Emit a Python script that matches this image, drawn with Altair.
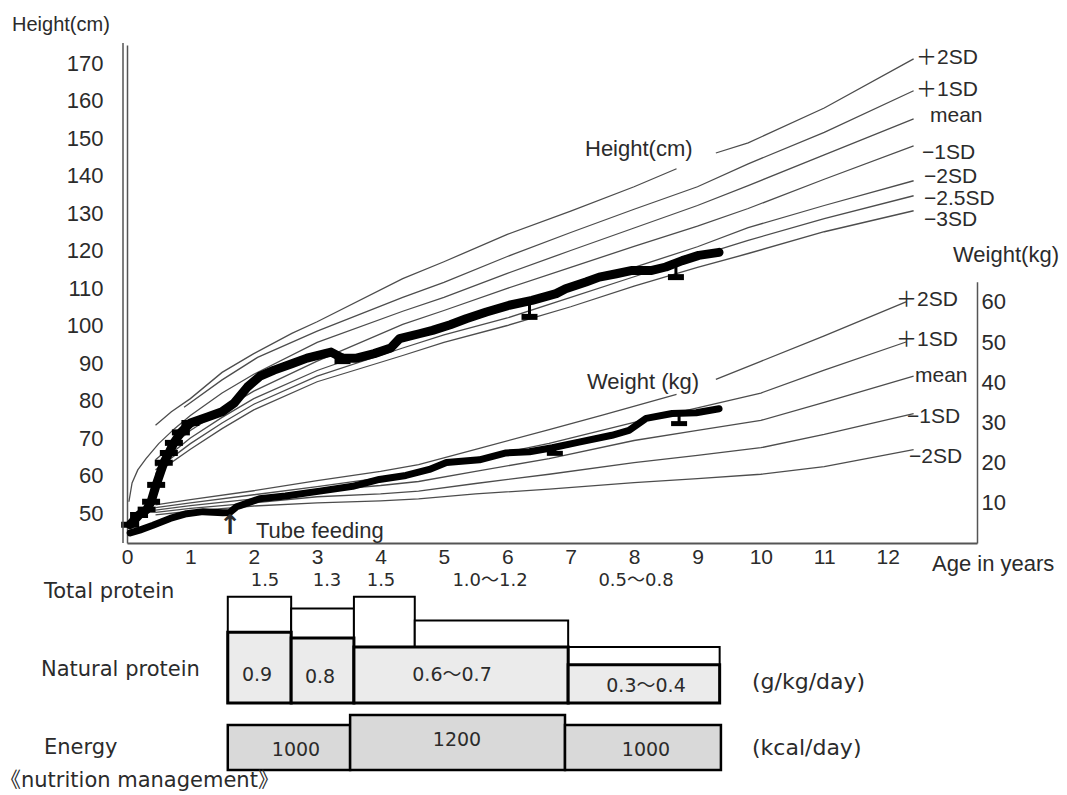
import altair as alt
import pandas as pd

# ---------------- data ----------------
# Height reference curves (cm) by age (years)
HT_P2_AGE_A = [0.45, 0.7, 1.0, 1.5, 2.0, 2.6, 3.0, 4.35, 5.0, 6.0, 7.0, 8.0, 8.67]
HT_P2_CM_A = [73.4, 77.0, 80.5, 87.5, 92.5, 97.9, 101.0, 112.5, 117.0, 124.3, 130.5, 137.0, 141.8]
HT_P2_AGE_B = [9.29, 9.8, 11.0, 12.41]
HT_P2_CM_B = [146.0, 148.7, 158.0, 171.1]
HT_P1_AGE = [0.9, 1.5, 2.06, 3.0, 4.35, 5.0, 6.0, 7.0, 8.0, 9.0, 9.8, 11.0, 12.41]
HT_P1_CM = [78.2, 85.5, 91.5, 98.5, 107.5, 111.5, 118.4, 124.8, 131.0, 137.0, 143.1, 151.5, 162.6]
HT_MEAN_AGE = [0.03, 0.08, 0.17, 0.3, 0.5, 0.75, 1.0, 1.5, 2.0, 3.0, 4.35, 5.0, 6.0, 7.0, 8.0, 9.0, 9.8, 11.0, 12.41]
HT_MEAN_CM = [53.0, 58.0, 61.5, 64.5, 68.5, 72.5, 76.0, 82.0, 87.0, 95.5, 103.8, 107.5, 113.9, 120.0, 126.0, 132.0, 137.3, 145.5, 155.1]
HT_LOW_AGE = [0.45, 1.0, 1.5, 2.0, 3.0, 4.35, 5.0, 6.0, 7.0, 8.0, 9.0, 9.8, 11.0, 12.41]
HT_M1_CM = [64.2, 72.0, 77.5, 82.5, 90.5, 100.3, 104.0, 109.9, 115.5, 121.1, 126.5, 131.2, 139.0, 147.9]
HT_M2_CM = [62.5, 70.0, 75.5, 80.5, 88.0, 96.0, 99.5, 104.5, 110.0, 115.5, 121.0, 126.1, 132.0, 138.6]
HT_M25_CM = [61.5, 68.5, 74.0, 79.0, 86.5, 94.0, 97.5, 102.0, 107.5, 113.0, 118.5, 122.7, 128.5, 134.6]
HT_M3_CM = [60.5, 67.0, 72.5, 77.5, 85.0, 92.0, 95.5, 100.0, 105.0, 110.5, 115.5, 119.2, 125.0, 130.6]

# Weight reference curves (kg)
WT_P2_AGE_A = [0.45, 1.0, 2.0, 3.0, 4.0, 4.6, 5.5, 6.66, 7.5, 8.67]
WT_P2_KG_A = [9.5, 10.8, 13.0, 15.5, 17.8, 19.5, 23.3, 28.2, 31.8, 37.0]
WT_P2_AGE_B = [9.29, 10.0, 11.0, 12.29]
WT_P2_KG_B = [40.7, 45.2, 51.5, 60.0]
WT_P1_AGE = [0.45, 1.0, 2.0, 3.0, 4.0, 4.6, 5.5, 6.66, 8.0, 9.0, 10.0, 11.0, 12.29]
WT_P1_KG = [8.8, 10.0, 12.0, 14.0, 16.2, 17.8, 21.0, 24.8, 30.0, 33.6, 37.3, 43.0, 50.0]
WT_LOW_AGE = [0.45, 1.0, 2.0, 3.0, 4.0, 4.6, 5.5, 6.66, 8.0, 9.0, 10.0, 11.0, 12.41]
WT_MEAN_KG = [8.2, 9.3, 11.0, 13.0, 14.3, 15.3, 17.8, 21.0, 25.5, 28.0, 30.5, 35.0, 41.5]
WT_M1_KG = [7.6, 8.6, 10.0, 11.5, 12.2, 12.9, 14.8, 17.1, 20.0, 21.8, 23.7, 27.0, 32.2]
WT_M2_KG = [7.0, 7.9, 9.2, 10.0, 10.5, 11.0, 12.2, 13.4, 15.0, 16.0, 17.1, 19.0, 23.2]

# Patient record
PT_HT_AGE = [0.05, 0.19, 0.31, 0.38, 0.46, 0.58, 0.66, 0.74, 0.85, 1.0, 1.27, 1.5, 1.69, 1.9,
             2.1, 2.32, 2.6, 2.84, 3.22, 3.4, 3.62, 3.9, 4.16, 4.3, 4.61, 4.82, 5.1, 5.35,
             5.67, 6.03, 6.39, 6.77, 6.92, 7.24, 7.45, 7.72, 7.97, 8.28, 8.5, 8.76, 9.02, 9.34]
PT_HT_CM = [46.9, 49.5, 50.9, 53.0, 57.5, 63.4, 66.0, 68.7, 71.5, 74.0, 75.6, 77.0, 79.3, 83.6,
            86.5, 88.1, 89.8, 91.3, 92.9, 91.3, 91.3, 92.5, 94.0, 96.5, 97.8, 98.7, 100.2, 101.8,
            103.6, 105.4, 106.7, 108.5, 109.8, 111.6, 112.9, 113.8, 114.7, 114.7, 115.6, 117.3, 118.7, 119.5]
HT_DIP_AGE = [3.4, 6.35, 8.66]
HT_DIP_TOP = [92.5, 106.6, 116.0]
HT_DIP_LOW = [90.5, 102.3, 112.9]

PT_WT_AGE = [0.05, 0.2, 0.41, 0.68, 0.94, 1.2, 1.51, 1.62, 1.73, 2.09, 2.5, 3.04, 3.56, 3.98,
             4.4, 4.77, 5.04, 5.56, 5.98, 6.35, 6.71, 7.13, 7.65, 7.92, 8.19, 8.6, 8.98, 9.34]
PT_WT_KG = [2.5, 3.2, 4.4, 6.1, 7.3, 7.8, 7.5, 7.6, 9.0, 11.0, 11.7, 12.9, 14.1, 15.8,
            16.8, 18.3, 20.0, 20.7, 22.4, 22.7, 23.7, 25.1, 26.8, 28.0, 31.0, 32.2, 32.4, 33.4]
WT_DIP_AGE = [6.75, 8.71]
WT_DIP_TOP = [23.9, 32.3]
WT_DIP_LOW = [22.3, 29.7]

# Nutrition management (age ranges)
TOTAL_START = [1.59, 2.59, 3.58, 4.54, 6.96]
TOTAL_END = [2.59, 3.58, 4.54, 6.96, 9.35]
TOTAL_VAL = [1.5, 1.3, 1.5, 1.1, 0.65]
TOTAL_TXT = ["1.5", "1.3", "1.5", "1.0～1.2", "0.5～0.8"]
NATURAL_START = [1.59, 2.59, 3.58, 6.96]
NATURAL_END = [2.59, 3.58, 6.96, 9.35]
NATURAL_VAL = [0.9, 0.8, 0.65, 0.35]
NATURAL_TXT = ["0.9", "0.8", "0.6～0.7", "0.3～0.4"]
ENERGY_START = [1.59, 3.52, 6.91]
ENERGY_END = [3.52, 6.91, 9.37]
ENERGY_VAL = [1000, 1200, 1000]
ENERGY_TXT = ["1000", "1200", "1000"]

X_TICKS = list(range(0, 13))
H_TICKS = list(range(50, 171, 10))
W_TICKS = list(range(10, 61, 10))

# ---------------- tables ----------------
def curves(pairs):
    rows = []
    for name, ages, vals in pairs:
        for a, v in zip(ages, vals):
            rows.append({"curve": name, "age": a, "value": v})
    return pd.DataFrame(rows)

ht_df = curves([
    ("+2SD a", HT_P2_AGE_A, HT_P2_CM_A), ("+2SD b", HT_P2_AGE_B, HT_P2_CM_B),
    ("+1SD", HT_P1_AGE, HT_P1_CM), ("mean", HT_MEAN_AGE, HT_MEAN_CM),
    ("-1SD", HT_LOW_AGE, HT_M1_CM), ("-2SD", HT_LOW_AGE, HT_M2_CM),
    ("-2.5SD", HT_LOW_AGE, HT_M25_CM), ("-3SD", HT_LOW_AGE, HT_M3_CM),
])
wt_df = curves([
    ("+2SD a", WT_P2_AGE_A, WT_P2_KG_A), ("+2SD b", WT_P2_AGE_B, WT_P2_KG_B),
    ("+1SD", WT_P1_AGE, WT_P1_KG), ("mean", WT_LOW_AGE, WT_MEAN_KG),
    ("-1SD", WT_LOW_AGE, WT_M1_KG), ("-2SD", WT_LOW_AGE, WT_M2_KG),
])
pt_ht = pd.DataFrame({"age": PT_HT_AGE, "value": PT_HT_CM})
pt_wt = pd.DataFrame({"age": PT_WT_AGE, "value": PT_WT_KG})
ht_dip = pd.DataFrame({"age": HT_DIP_AGE, "top": HT_DIP_TOP, "low": HT_DIP_LOW})
wt_dip = pd.DataFrame({"age": WT_DIP_AGE, "top": WT_DIP_TOP, "low": WT_DIP_LOW})
total_df = pd.DataFrame({"start": TOTAL_START, "end": TOTAL_END, "value": TOTAL_VAL, "base": -0.3})
natural_df = pd.DataFrame({"start": NATURAL_START, "end": NATURAL_END, "value": NATURAL_VAL, "base": -0.3})
energy_df = pd.DataFrame({"start": ENERGY_START, "end": ENERGY_END, "value": ENERGY_VAL, "base": 100})

# ---------------- scales / axes ----------------
FONT = "Liberation Sans"
FONT_MIX = "Liberation Sans, Noto Sans CJK JP, sans-serif"
FONT_B = "DejaVu Sans, Noto Sans CJK JP, sans-serif"
INK = "#2b2b2b"
LINE = "#4d4d4d"

X_SCALE = alt.Scale(domain=[0, 13.41], nice=False, zero=False)
H_SCALE = alt.Scale(domain=[42, 174.8], range=[498, 0], nice=False, zero=False)
W_SCALE = alt.Scale(domain=[0, 65], range=[498, 236.7], nice=False, zero=False)
P_SCALE = alt.Scale(domain=[-0.3, 2.0], range=[658, 522.3], nice=False, zero=False)
E_SCALE = alt.Scale(domain=[100, 1400], range=[725, 660], nice=False, zero=False)

X_AXIS = alt.Axis(values=X_TICKS, labelFontSize=21, labelFont=FONT, labelColor=INK, ticks=False,
                  tickSize=0, domainColor="#555555", domainWidth=2, grid=False, title=None,
                  labelPadding=3, labelFlush=False, labelOverlap=False)
H_AXIS = alt.Axis(orient="left", values=H_TICKS, labelFontSize=22, labelFont=FONT, labelColor=INK,
                  ticks=False, tickSize=0, domainColor="#555555", domainWidth=1.5, grid=False,
                  title=None, labelPadding=24, labelFlush=False, labelOverlap=False)
W_AXIS = alt.Axis(orient="right", values=W_TICKS, labelFontSize=22, labelFont=FONT, labelColor=INK,
                  ticks=False, tickSize=0, domainColor="#555555", domainWidth=1.5, grid=False,
                  title=None, labelPadding=4, labelFlush=False, labelOverlap=False)


def xq(field):
    return alt.X(f"{field}:Q", scale=X_SCALE, axis=X_AXIS)


layers = []

# height reference curves (carry the left axis)
layers.append(alt.Chart(ht_df).mark_line(color=LINE, strokeWidth=1.3).encode(
    x=xq("age"), y=alt.Y("value:Q", scale=H_SCALE, axis=H_AXIS), detail="curve:N"))
# weight reference curves (carry the right axis)
layers.append(alt.Chart(wt_df).mark_line(color=LINE, strokeWidth=1.3).encode(
    x=xq("age"), y=alt.Y("value:Q", scale=W_SCALE, axis=W_AXIS), detail="curve:N"))

# patient height
layers.append(alt.Chart(pt_ht).mark_line(color="black", strokeWidth=9, strokeCap="round",
                                         strokeJoin="round").encode(
    x=xq("age"), y=alt.Y("value:Q", scale=H_SCALE, axis=None)))
layers.append(alt.Chart(pt_ht).transform_filter(alt.datum.age <= 1.0).mark_tick(
    orient="horizontal", color="black", opacity=1, thickness=6, size=18).encode(
    x=xq("age"), y=alt.Y("value:Q", scale=H_SCALE, axis=None)))
layers.append(alt.Chart(ht_dip).mark_rule(color="black", strokeWidth=3).encode(
    x=xq("age"), y=alt.Y("top:Q", scale=H_SCALE, axis=None), y2="low:Q"))
layers.append(alt.Chart(ht_dip).mark_tick(orient="horizontal", color="black", opacity=1,
                                          thickness=6, size=16).encode(
    x=xq("age"), y=alt.Y("low:Q", scale=H_SCALE, axis=None)))

# patient weight
layers.append(alt.Chart(pt_wt).mark_line(color="black", strokeWidth=7, strokeCap="round",
                                         strokeJoin="round").encode(
    x=xq("age"), y=alt.Y("value:Q", scale=W_SCALE, axis=None)))
layers.append(alt.Chart(wt_dip).mark_rule(color="black", strokeWidth=3).encode(
    x=xq("age"), y=alt.Y("top:Q", scale=W_SCALE, axis=None), y2="low:Q"))
layers.append(alt.Chart(wt_dip).mark_tick(orient="horizontal", color="black", opacity=1,
                                          thickness=5, size=16).encode(
    x=xq("age"), y=alt.Y("low:Q", scale=W_SCALE, axis=None)))

# nutrition boxes
layers.append(alt.Chart(total_df).mark_rect(fill="white", stroke="black", strokeWidth=2).encode(
    x=xq("start"), x2="end:Q", y=alt.Y("value:Q", scale=P_SCALE, axis=None), y2="base:Q"))
layers.append(alt.Chart(natural_df).mark_rect(fill="#ebebeb", stroke="black", strokeWidth=3).encode(
    x=xq("start"), x2="end:Q", y=alt.Y("value:Q", scale=P_SCALE, axis=None), y2="base:Q"))
layers.append(alt.Chart(energy_df).mark_rect(fill="#d9d9d9", stroke="black", strokeWidth=2.5).encode(
    x=xq("start"), x2="end:Q", y=alt.Y("value:Q", scale=E_SCALE, axis=None), y2="base:Q"))

# second line of the double left axis
layers.append(alt.Chart(pd.DataFrame({"k": [0]})).mark_rule(color="#555555", strokeWidth=1.5).encode(
    x=alt.value(-4), y=alt.value(-2), y2=alt.value(498)))

# ---------------- annotations (page pixel positions) ----------------
OX, OY = 127, 45


def txt(s, px, py, size=22, align="left", font=FONT, weight="normal"):
    return alt.Chart(pd.DataFrame({"t": [s]})).mark_text(
        align=align, baseline="middle", fontSize=size, font=font, color=INK,
        fontWeight=weight).encode(
        x=alt.value(px - OX), y=alt.value(py - OY), text="t:N")


ANN = [
    ("Height(cm)", 12, 25, 20, "left", FONT, "normal"),
    ("＋2SD", 916, 58, 21, "left", FONT_MIX, "normal"),
    ("＋1SD", 916, 90, 21, "left", FONT_MIX, "normal"),
    ("mean", 930, 116, 21, "left", FONT, "normal"),
    ("−1SD", 922, 153, 21, "left", FONT, "normal"),
    ("−2SD", 924, 177, 21, "left", FONT, "normal"),
    ("−2.5SD", 924, 199, 21, "left", FONT, "normal"),
    ("−3SD", 924, 220, 21, "left", FONT, "normal"),
    ("Weight(kg)", 953, 255, 22, "left", FONT, "normal"),
    ("＋2SD", 896, 300, 21, "left", FONT_MIX, "normal"),
    ("＋1SD", 896, 340, 21, "left", FONT_MIX, "normal"),
    ("mean", 915, 376, 21, "left", FONT, "normal"),
    ("−1SD", 907, 417, 21, "left", FONT, "normal"),
    ("−2SD", 909, 457, 21, "left", FONT, "normal"),
    ("Height(cm)", 585, 149, 22, "left", FONT, "normal"),
    ("Weight (kg)", 587, 382, 22, "left", FONT, "normal"),
    ("↑", 230, 526, 27, "center", "DejaVu Sans", "bold"),
    ("Tube feeding", 256, 531, 22, "left", FONT, "normal"),
    ("Age in years", 932, 564, 22, "left", FONT, "normal"),
    ("Total protein", 44, 592, 21, "left", FONT_B, "normal"),
    ("Natural protein", 41, 670, 21, "left", FONT_B, "normal"),
    ("Energy", 44, 748, 21, "left", FONT_B, "normal"),
    ("(g/kg/day)", 752, 682, 22, "left", FONT_B, "normal"),
    ("(kcal/day)", 752, 748, 22, "left", FONT_B, "normal"),
    ("《nutrition management》", 0, 781, 21, "left", FONT_B, "normal"),
]
for s, px, py, size, align, font, weight in ANN:
    layers.append(txt(s, px, py, size, align, font, weight))

TOTAL_TXT_POS = [(265, 581), (327, 581), (381, 581), (490, 581), (636, 581)]
for s, (px, py) in zip(TOTAL_TXT, TOTAL_TXT_POS):
    layers.append(txt(s, px, py, 18, "center", FONT_B))
NATURAL_TXT_POS = [(257, 675), (320, 677), (452, 675), (646, 686)]
for s, (px, py) in zip(NATURAL_TXT, NATURAL_TXT_POS):
    layers.append(txt(s, px, py, 19, "center", FONT_B))
ENERGY_TXT_POS = [(296, 750), (457, 740), (646, 750)]
for s, (px, py) in zip(ENERGY_TXT, ENERGY_TXT_POS):
    layers.append(txt(s, px, py, 19, "center", FONT_B))

chart = alt.layer(*layers).resolve_scale(y="independent").properties(
    width=850, height=498,
    autosize=alt.AutoSizeParams(type="none"),
    padding={"left": OX, "top": OY, "right": 1067 - OX - 850, "bottom": 795 - OY - 498},
).configure_view(stroke=None)

chart.save("out.html", embed_options={"renderer": "svg", "actions": False})
